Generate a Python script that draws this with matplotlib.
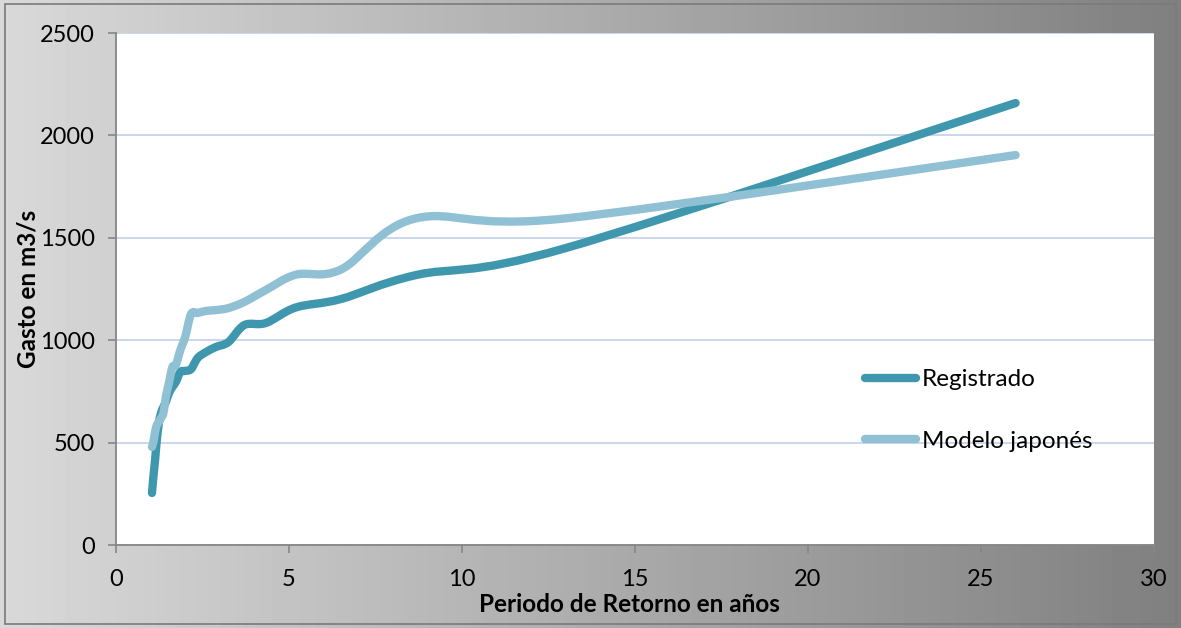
import numpy as np
import matplotlib
matplotlib.use("Agg")
import matplotlib.pyplot as plt
from matplotlib.path import Path
from matplotlib.patches import PathPatch, Rectangle
from matplotlib.lines import Line2D

# return periods (years) and flows (m3/s)
periodos = [1.04, 1.08, 1.13, 1.18, 1.24, 1.30, 1.37, 1.44, 1.53, 1.63, 1.73, 1.86, 2.00,
            2.17, 2.36, 2.60, 2.89, 3.25, 3.71, 4.33, 5.20, 6.50, 8.67, 13.0, 26.0]
registrado = [254, 332, 415, 513, 596, 644, 674, 698, 742, 772, 796, 845, 850,
              859, 913, 942, 967, 991, 1074, 1084, 1160, 1201, 1318, 1450, 2158]
modelo = [479, 503, 552, 586, 601, 620, 644, 723, 791, 869, 879, 952, 1016,
          1128, 1133, 1143, 1147, 1157, 1187, 1245, 1320, 1345, 1595, 1595, 1904]

series_names = ["Registrado", "Modelo japonés"]
series_colors = ["#3f97ae", "#8fc0d4"]

plt.rcParams["font.family"] = ["Lato", "DejaVu Sans"]


def smooth_path(xs, ys):
    # bezier segments like a spreadsheet "smoothed line"
    p = np.column_stack([xs, ys]).astype(float)
    n = len(p)
    verts = [p[0]]
    codes = [Path.MOVETO]
    for i in range(n - 1):
        p0 = p[i - 1] if i > 0 else p[i]
        p3 = p[i + 2] if i + 2 < n else p[i + 1]
        c1 = p[i] + (p[i + 1] - p0) / 6.0
        c2 = p[i + 1] - (p3 - p[i]) / 6.0
        verts += [c1, c2, p[i + 1]]
        codes += [Path.CURVE4] * 3
    return Path(verts, codes)


W, H = 1181, 628
fig = plt.figure(figsize=(W / 100, H / 100), dpi=100)

# gradient background
bg = fig.add_axes([0, 0, 1, 1], zorder=-10)
grad = np.linspace(0.85, 0.50, 256).reshape(1, -1)
bg.imshow(grad, cmap="gray", vmin=0, vmax=1, aspect="auto", extent=[0, 1, 0, 1])
bg.add_patch(Rectangle((0.004, 0.006), 0.992, 0.988, fill=False, edgecolor="#7a7a7a", lw=1.2))
bg.set_xlim(0, 1)
bg.set_ylim(0, 1)
bg.axis("off")

ax = fig.add_axes([116 / W, 1 - 545 / H, 1038 / W, 512 / H])
ax.set_facecolor("white")
ax.set_xlim(0, 30)
ax.set_ylim(0, 2500)
ax.set_xticks(range(0, 31, 5))
ax.set_yticks(range(0, 2501, 500))
ax.yaxis.grid(True, color="#c5d3ec", lw=1.3)
ax.set_axisbelow(True)
for s in ["top", "right"]:
    ax.spines[s].set_visible(False)
for s in ["left", "bottom"]:
    ax.spines[s].set_color("#868686")
    ax.spines[s].set_linewidth(1.3)
ax.tick_params(direction="out", length=6, width=1.2, color="#868686", labelsize=17)
ax.tick_params(axis="y", pad=9)
ax.tick_params(axis="x", pad=11)

for ys, name, col in zip([registrado, modelo], series_names, series_colors):
    ax.add_patch(PathPatch(smooth_path(periodos, ys), facecolor="none", edgecolor=col,
                           lw=6, capstyle="round", joinstyle="round", zorder=3))

fig.text(629 / W, 1 - 604 / H, "Periodo de Retorno en años", fontsize=17.5,
         fontweight="bold", ha="center", va="center")
fig.text(28 / W, 1 - 289 / H, "Gasto en m3/s", fontsize=17.5, fontweight="bold",
         rotation=90, ha="center", va="center")

handles = [Line2D([], [], color=c, lw=6, solid_capstyle="round") for c in series_colors]
ax.legend(handles, series_names, loc="center left", bbox_to_anchor=(0.7216, 0.2627),
          frameon=False, fontsize=17.5, handlelength=2.1, handletextpad=0.25,
          labelspacing=1.65, borderaxespad=0, borderpad=0)

fig.savefig("out.png", dpi=100)
